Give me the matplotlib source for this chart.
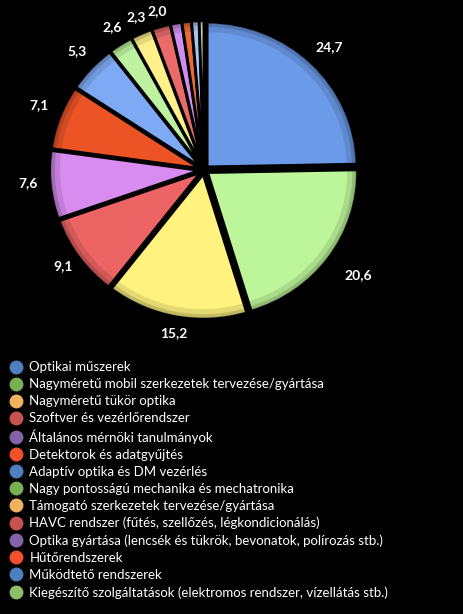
import numpy as np
import matplotlib.pyplot as plt
from matplotlib.lines import Line2D
from matplotlib.patches import Wedge

categories = [
    "Optikai műszerek",
    "Nagyméretű mobil szerkezetek tervezése/gyártása",
    "Nagyméretű tükör optika",
    "Szoftver és vezérlőrendszer",
    "Általános mérnöki tanulmányok",
    "Detektorok és adatgyűjtés",
    "Adaptív optika és DM vezérlés",
    "Nagy pontosságú mechanika és mechatronika",
    "Támogató szerkezetek tervezése/gyártása",
    "HAVC rendszer (fűtés, szellőzés, légkondicionálás)",
    "Optika gyártása (lencsék és tükrök, bevonatok, polírozás stb.)",
    "Hűtőrendszerek",
    "Működtető rendszerek",
    "Kiegészítő szolgáltatások (elektromos rendszer, vízellátás stb.)",
]
values = [24.7, 20.6, 15.2, 9.1, 7.6, 7.1, 5.3, 2.6, 2.3, 2.0, 1.2, 1.0, 0.8, 0.5]
value_labels = ["24,7", "20,6", "15,2", "9,1", "7,6", "7,1", "5,3", "2,6", "2,3", "2,0",
                "", "", "", ""]

slice_colors = ["#6a9ae8", "#bdf59a", "#fff27e", "#ec6464", "#d98cf0", "#ec5426",
                "#7eaaf5", "#bff2a0", "#fff08a", "#ea6a6a", "#cf8ef0", "#ee6a34",
                "#a8c4f4", "#cdf0b0"]
legend_colors = ["#4f7fc0", "#79b055", "#f0b35c", "#c65350", "#8462a8", "#f1502c",
                 "#4f7fc0", "#79b055", "#f0b35c", "#c65350", "#8462a8", "#f1502c",
                 "#4f7fc0", "#8fbd6a"]

fig = plt.figure(figsize=(4.63, 6.14), dpi=100, facecolor="black")
# pie centre ~ (204, 170) px, radius ~150 px wide, ~145 px tall (slight tilt)
cx, cy, half = 204, 170, 168
rx, ry = 150, 145
ax = fig.add_axes([(cx - half) / 463, 1 - (cy + half) / 614,
                   2 * half / 463, 2 * half / 614])
ax.set_facecolor("black")

explode = [0.03] * len(values)
wedges, texts = ax.pie(values, labels=value_labels, colors=slice_colors,
                       startangle=90, counterclock=False, explode=explode,
                       labeldistance=1.15,
                       wedgeprops=dict(edgecolor="black", linewidth=2),
                       textprops=dict(color="white", fontsize=10, fontweight="bold",
                                      family=["Lato", "DejaVu Sans"]))
for w, t in zip(wedges, texts):
    mid = np.deg2rad((w.theta1 + w.theta2) / 2)
    dx, dy = np.cos(mid), np.sin(mid)
    d = 1.08 + 0.1 * abs(dx) + (0.04 if dx > 0 else 0)
    px = d * dx + (0.06 if dx > 0 and dy < 0 else 0)
    py = d * dy + (0.03 if dx < 0 else 0) - 0.08 * max(-dy, 0) ** 3
    t.set_position((px, py))
    t.set_horizontalalignment("center")
    t.set_verticalalignment("center")

# soft darker rim for a bevelled look
for w in wedges:
    for inner, a in [(0.93, 0.10), (0.965, 0.14), (0.985, 0.18)]:
        ring = Wedge(w.center, w.r, w.theta1, w.theta2, width=w.r - inner * w.r,
                     facecolor="black", alpha=a, edgecolor="none")
        ax.add_patch(ring)

ax.set_xlim(-half / rx, half / rx)
ax.set_ylim(-half / ry, half / ry)
ax.set_aspect("auto")
ax.axis("off")

handles = [Line2D([], [], marker="o", linestyle="none", markersize=9,
                  markerfacecolor=c, markeredgecolor=c) for c in legend_colors]
leg = fig.legend(handles, categories, loc="upper left",
                 bbox_to_anchor=(0.005, 1 - 356 / 614), frameon=False,
                 handletextpad=0.45, labelspacing=0.38, borderaxespad=0,
                 handlelength=1.2,
                 prop=dict(family=["Lato", "DejaVu Sans"], size=9.5))
for t in leg.get_texts():
    t.set_color("white")

plt.savefig("out.png", dpi=100, facecolor="black")
